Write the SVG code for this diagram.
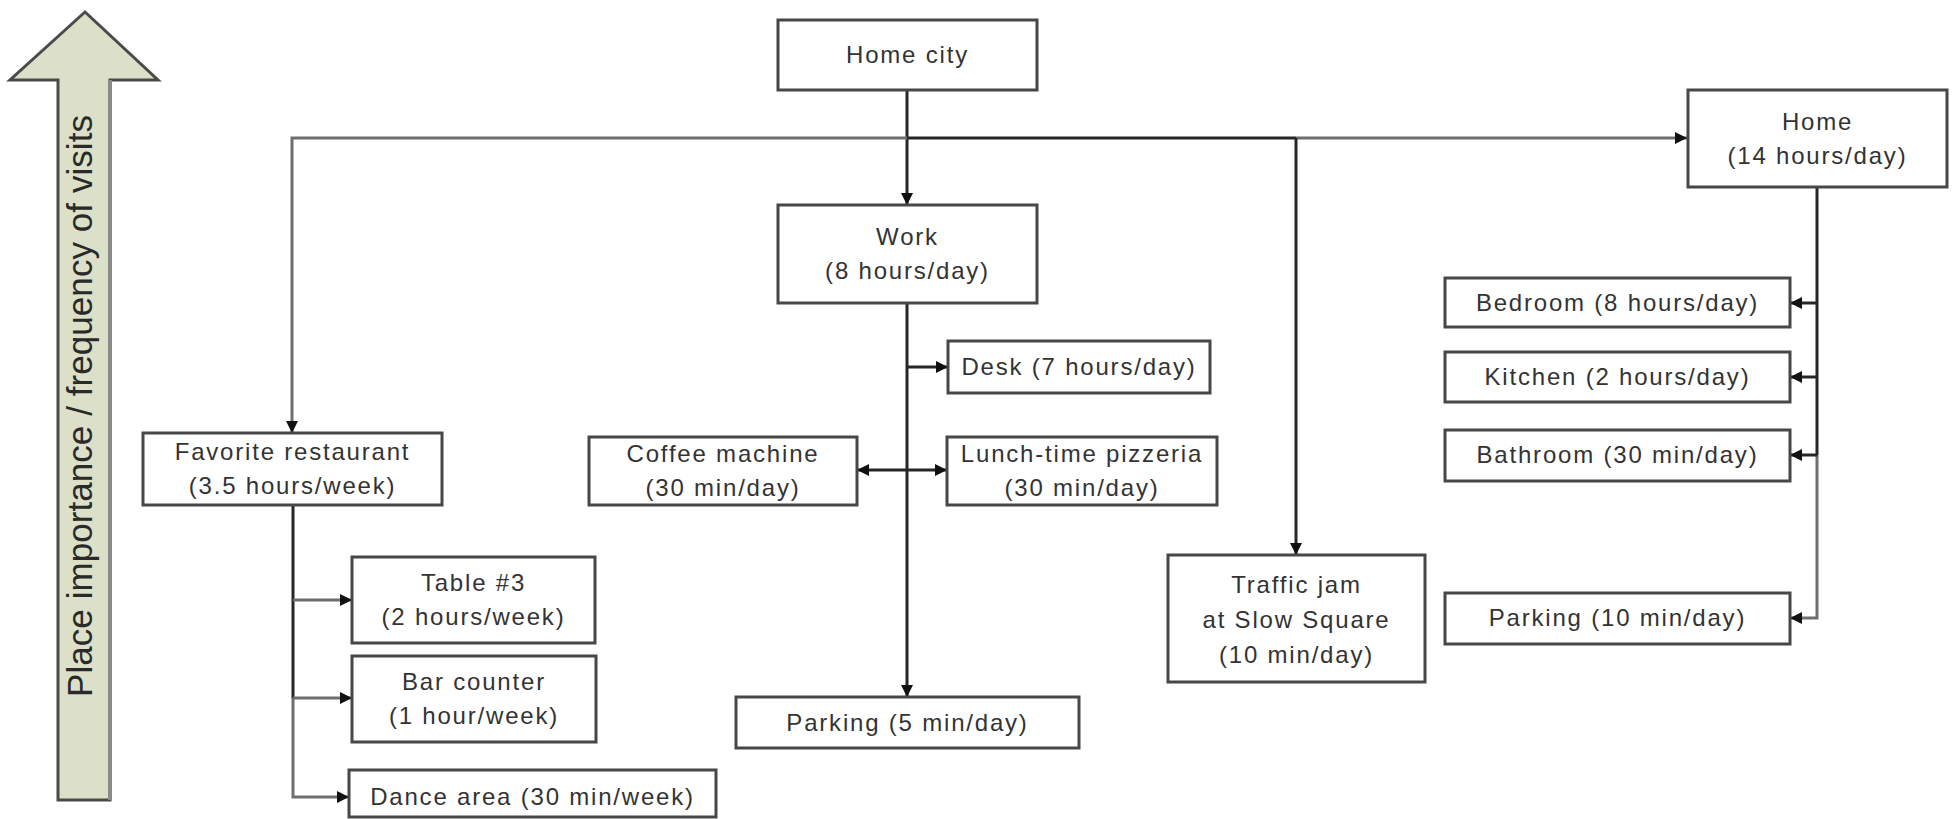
<svg xmlns="http://www.w3.org/2000/svg" width="1952" height="819" viewBox="0 0 1952 819">
<style>
.box{fill:#fff;stroke:#474747;stroke-width:3}
.t{font-family:"Liberation Sans",Arial,sans-serif;font-size:24px;letter-spacing:1.8px;fill:#333;text-anchor:middle}
.c{fill:none;stroke:#262626;stroke-width:3}
.cg{fill:none;stroke:#6e6e6e;stroke-width:3}
.lab{font-family:"Liberation Sans",Arial,sans-serif;font-size:35px;fill:#2a2a2a;text-anchor:middle}
</style>
<defs>
<marker id="ah" viewBox="0 0 12 12" refX="12" refY="6" markerWidth="12" markerHeight="12" markerUnits="userSpaceOnUse" orient="auto-start-reverse">
<path d="M0,0 L12,6 L0,12 z" fill="#111"/>
</marker>
</defs>
<rect width="1952" height="819" fill="#fff"/>

<g id="axis-arrow">
<polygon points="85,12 10,80 58,80 58,800 110,800 110,80 158,80" fill="#dde0c9" stroke="#4a4a4a" stroke-width="3" stroke-linejoin="miter"/>
<line x1="110" y1="80" x2="110" y2="800" stroke="#8a8a8a" stroke-width="4"/>
<text class="lab" transform="translate(92,406) rotate(-90)" x="0" y="0" textLength="582" lengthAdjust="spacing">Place importance / frequency of visits</text>
</g>

<g id="connectors">
<path class="c" d="M907,90 V205" marker-end="url(#ah)"/>
<path class="cg" d="M907,138 H292 V433" marker-end="url(#ah)"/>
<path class="c" d="M907,138 H1296"/>
<path class="cg" d="M1296,138 H1687" marker-end="url(#ah)"/>
<path class="c" d="M1296,138 V555" marker-end="url(#ah)"/>
<path class="c" d="M907,303 V697" marker-end="url(#ah)"/>
<path class="c" d="M907,367 H948" marker-end="url(#ah)"/>
<path class="c" d="M857,470 H947" marker-start="url(#ah)" marker-end="url(#ah)"/>
<path class="c" d="M293,505 V698"/>
<path class="cg" d="M293,698 V797 H349" marker-end="url(#ah)"/>
<path class="cg" d="M293,600 H352" marker-end="url(#ah)"/>
<path class="cg" d="M293,698 H352" marker-end="url(#ah)"/>
<path class="c" d="M1817,187 V455"/>
<path class="cg" d="M1817,455 V618 H1790" marker-end="url(#ah)"/>
<path class="c" d="M1817,303 H1790" marker-end="url(#ah)"/>
<path class="c" d="M1817,377 H1790" marker-end="url(#ah)"/>
<path class="c" d="M1817,455 H1790" marker-end="url(#ah)"/>
</g>

<g id="home-city">
<rect class="box" x="778" y="20" width="259" height="70"/>
<text class="t" x="907.5" y="63">Home city</text>
</g>
<g id="work">
<rect class="box" x="778" y="205" width="259" height="98"/>
<text class="t" x="907.5" y="245">Work</text>
<text class="t" x="907.5" y="279">(8 hours/day)</text>
</g>
<g id="home">
<rect class="box" x="1688" y="90" width="259" height="97"/>
<text class="t" x="1817.5" y="130">Home</text>
<text class="t" x="1817.5" y="164">(14 hours/day)</text>
</g>
<g id="favorite-restaurant">
<rect class="box" x="143" y="433" width="299" height="72"/>
<text class="t" x="292.5" y="460">Favorite restaurant</text>
<text class="t" x="292.5" y="494">(3.5 hours/week)</text>
</g>
<g id="table3">
<rect class="box" x="352" y="557" width="243" height="86"/>
<text class="t" x="473.5" y="591">Table #3</text>
<text class="t" x="473.5" y="625">(2 hours/week)</text>
</g>
<g id="bar-counter">
<rect class="box" x="352" y="656" width="244" height="86"/>
<text class="t" x="474" y="690">Bar counter</text>
<text class="t" x="474" y="724">(1 hour/week)</text>
</g>
<g id="dance-area">
<rect class="box" x="349" y="770" width="367" height="47"/>
<text class="t" x="532.5" y="805">Dance area (30 min/week)</text>
</g>
<g id="coffee-machine">
<rect class="box" x="589" y="437" width="268" height="68"/>
<text class="t" x="723" y="462">Coffee machine</text>
<text class="t" x="723" y="496">(30 min/day)</text>
</g>
<g id="pizzeria">
<rect class="box" x="947" y="437" width="270" height="68"/>
<text class="t" x="1082" y="462">Lunch-time pizzeria</text>
<text class="t" x="1082" y="496">(30 min/day)</text>
</g>
<g id="desk">
<rect class="box" x="948" y="341" width="262" height="52"/>
<text class="t" x="1079" y="375">Desk (7 hours/day)</text>
</g>
<g id="work-parking">
<rect class="box" x="736" y="697" width="343" height="51"/>
<text class="t" x="907.5" y="731">Parking (5 min/day)</text>
</g>
<g id="traffic-jam">
<rect class="box" x="1168" y="555" width="257" height="127"/>
<text class="t" x="1296.5" y="593">Traffic jam</text>
<text class="t" x="1296.5" y="628">at Slow Square</text>
<text class="t" x="1296.5" y="663">(10 min/day)</text>
</g>
<g id="bedroom">
<rect class="box" x="1445" y="278" width="345" height="49"/>
<text class="t" x="1617.5" y="311">Bedroom (8 hours/day)</text>
</g>
<g id="kitchen">
<rect class="box" x="1445" y="352" width="345" height="50"/>
<text class="t" x="1617.5" y="385">Kitchen (2 hours/day)</text>
</g>
<g id="bathroom">
<rect class="box" x="1445" y="430" width="345" height="51"/>
<text class="t" x="1617.5" y="463">Bathroom (30 min/day)</text>
</g>
<g id="home-parking">
<rect class="box" x="1445" y="593" width="345" height="51"/>
<text class="t" x="1617.5" y="626">Parking (10 min/day)</text>
</g>
</svg>
